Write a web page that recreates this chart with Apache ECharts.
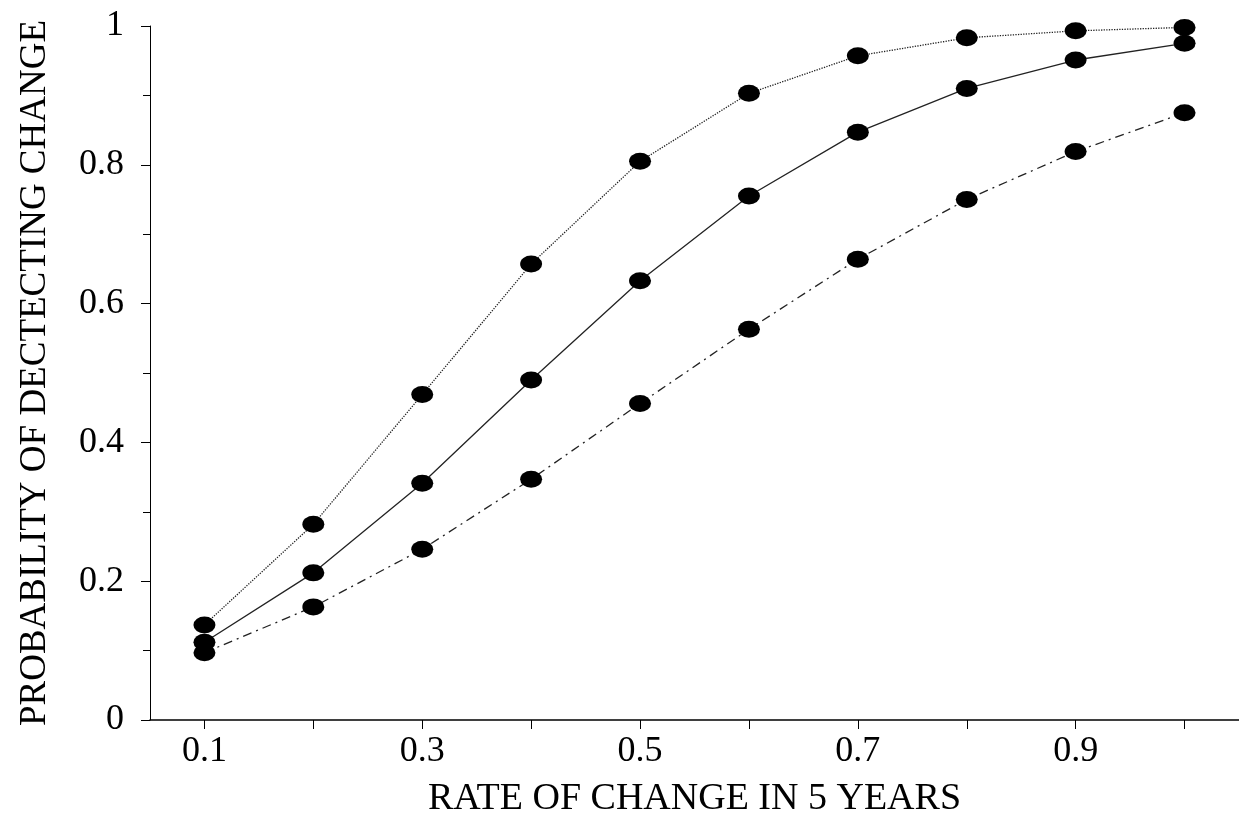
<!DOCTYPE html>
<html>
<head>
<meta charset="utf-8">
<script src="https://cdn.jsdelivr.net/npm/echarts@6/dist/echarts.min.js"></script>
<style>
  html, body { margin: 0; padding: 0; background: #fff; }
  #chart_wrap { width: 1239px; height: 832px; }
</style>
</head>
<body>
<div id="chart_wrap"></div>
<script>
// rate of change in 5 years (x)
var rates = [0.1, 0.2, 0.3, 0.4, 0.5, 0.6, 0.7, 0.8, 0.9, 1.0];
// probability of detecting change, three curves
var upper = [0.137, 0.282, 0.469, 0.657, 0.805, 0.903, 0.957, 0.983, 0.993, 0.998];
var middle = [0.112, 0.212, 0.341, 0.490, 0.633, 0.755, 0.847, 0.910, 0.951, 0.975];
var lower = [0.097, 0.163, 0.246, 0.347, 0.456, 0.563, 0.664, 0.750, 0.819, 0.875];
// tick positions on x axis
var xTicks = [0.1, 0.2, 0.3, 0.4, 0.5, 0.6, 0.7, 0.8, 0.9, 1.0];
var xLabels = [0.1, 0.3, 0.5, 0.7, 0.9];

function pairs(ys) {
    var res = [];
    for (var i = 0; i < rates.length; i++) {
        res.push([rates[i], ys[i]]);
    }
    return res;
}

var chart = echarts.init(document.getElementById('chart_wrap'));
var font = 'Liberation Serif';

function makeSeries(ys, lineType) {
    return {
        type: 'line',
        data: pairs(ys),
        symbol: 'circle',
        symbolSize: [22, 17],
        clip: false,
        itemStyle: { color: '#000' },
        lineStyle: { color: '#222', width: 1.3, type: lineType },
        z: 3
    };
}

var option = {
    backgroundColor: '#fff',
    animation: false,
    grid: { left: 150, right: 0, top: 26, bottom: 112 },
    xAxis: {
        type: 'value',
        min: 0.05,
        max: 1.05,
        name: 'RATE OF CHANGE IN 5 YEARS',
        nameLocation: 'middle',
        nameGap: 60,
        nameTextStyle: { fontFamily: font, fontSize: 38, color: '#000' },
        axisLine: { lineStyle: { color: '#000', width: 1.5 } },
        axisTick: { show: true, customValues: xTicks, length: 9, lineStyle: { color: '#000' } },
        axisLabel: {
            customValues: xLabels,
            fontFamily: font, fontSize: 36, color: '#000', margin: 14,
            formatter: function (v) { return v.toFixed(1); }
        },
        splitLine: { show: false }
    },
    yAxis: {
        type: 'value',
        min: 0,
        max: 1,
        interval: 0.2,
        name: 'PROBABILITY OF DECTECTING CHANGE',
        nameLocation: 'middle',
        nameGap: 96,
        nameTextStyle: { fontFamily: font, fontSize: 37, color: '#000' },
        axisLine: { show: true, lineStyle: { color: '#000', width: 1 } },
        axisTick: { show: true, length: 9, lineStyle: { color: '#000' } },
        minorTick: { show: true, splitNumber: 2, length: 7, lineStyle: { color: '#000' } },
        axisLabel: { fontFamily: font, fontSize: 36, color: '#000', margin: 26 },
        splitLine: { show: false }
    },
    series: [
        makeSeries(upper, 'dotted'),
        makeSeries(middle, 'solid'),
        makeSeries(lower, [9, 5, 2, 5])
    ]
};

chart.setOption(option);
</script>
</body>
</html>
